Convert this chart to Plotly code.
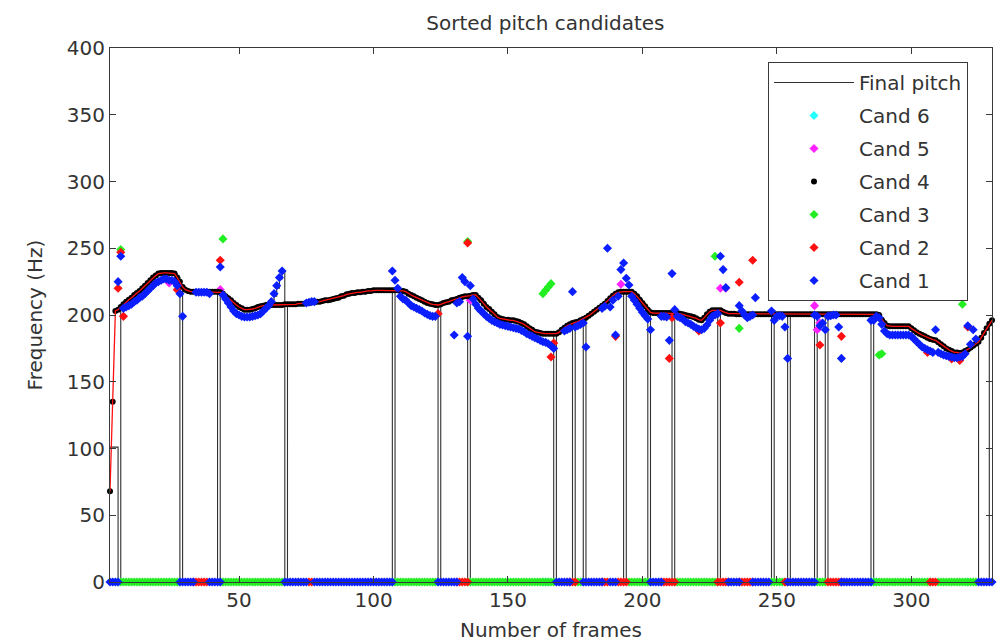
import plotly.graph_objects as go

# ---------------- data ----------------
first_frame = 2
last_frame = 330
frames = list(range(first_frame, last_frame + 1))

# smoothed pitch contour (Hz), one value per frame, frames 2..330
pitch_contour = [
    68, 135, 203, 204, 206, 208, 210, 211.5, 213, 215,            # 2-11
    216.5, 218, 220, 222, 224, 226, 228, 229.5, 231, 231.5,       # 12-21
    231.5, 231.5, 231.5, 231.5, 231, 228, 225, 221, 219, 218,     # 22-31
    217.5, 217.5, 217.5, 217.5, 217.5, 217.5, 217.5, 217.5, 217.5, 217.5,  # 32-41
    217.5, 217, 216, 214, 212.5, 211, 209, 207.5, 206, 205,       # 42-51
    204, 204, 204, 204.5, 205, 206, 206.5, 207, 207.5, 207.5,     # 52-61
    207.5, 207.5, 207.5, 207.5, 207.5, 208, 208, 208, 208, 208,   # 62-71
    208.5, 208.5, 208.5, 209, 209, 209.5, 209.5, 210, 210, 210.5, # 72-81
    211, 211, 211.5, 212, 212.5, 213, 214, 214.5, 215.5, 216,     # 82-91
    216.5, 216.5, 217, 217, 217.5, 217.5, 218, 218, 218.5, 218.5, # 92-101
    218.5, 218.5, 218.5, 218.5, 218.5, 218.5, 218.5, 218.5, 218, 218,  # 102-111
    217.5, 216, 215, 214, 213, 212, 211, 210, 209, 208.5,         # 112-121
    208, 207.5, 207.5, 208, 209, 209.5, 210, 211, 211.5, 212,     # 122-131
    213, 213.5, 214, 214, 214.5, 215, 215, 213, 211, 208.5,       # 132-141
    206, 204.5, 202.5, 200.5, 198.5, 197.5, 197, 196.5, 196.5, 196,  # 142-151
    196, 195.5, 195, 194, 193, 191.5, 190, 189, 187.5, 187,       # 152-161
    186.5, 186, 186, 186, 186, 186, 186, 187, 189, 190.5,         # 162-171
    192, 193, 194, 194.5, 195, 196, 197, 198, 199.5, 201,         # 172-181
    202.5, 204, 205.5, 207, 208.5, 210.5, 212.5, 214.5, 216, 217, # 182-191
    217.5, 217.5, 217.5, 217.5, 217.5, 216, 214, 211.5, 209, 206.5,  # 192-201
    204, 202, 201.5, 201.5, 201.5, 201.5, 201.5, 201.5, 201.5, 201.5,  # 202-211
    201.5, 201.5, 201, 200.5, 200, 199.5, 199, 198.5, 197.5, 196.5,  # 212-221
    196, 198, 200.5, 202.5, 203.5, 203.5, 203.5, 203.5, 202.5, 201.5,  # 222-231
    201, 201, 201, 200.5, 200.5, 200.5, 200.5, 200.5, 200.5, 200.5,  # 232-241
    200.5, 200.5, 200.5, 200.5, 200.5, 200.5, 200.5, 200.5, 200.5, 200.5,  # 242-251
    200.5, 200.5, 200.5, 200.5, 200.5, 200.5, 200.5, 200.5, 200.5, 200.5,  # 252-261
    200.5, 200.5, 200.5, 200.5, 200.5, 200.5, 200.5, 200.5, 200.5, 200.5,  # 262-271
    200.5, 200.5, 200.5, 200.5, 200.5, 200.5, 200.5, 200.5, 200.5, 200.5,  # 272-281
    200.5, 200.5, 200.5, 200.5, 200.5, 200.5, 200, 196.5, 194, 192,  # 282-291
    191.5, 191.5, 191.5, 191.5, 191.5, 191.5, 191.5, 191.5, 190, 188.5,  # 292-301
    187, 186, 185, 184, 183, 182, 181.5, 181, 179.5, 178,         # 302-311
    176.5, 175, 174, 173, 172, 172, 171.5, 172, 173, 174,         # 312-321
    175.5, 177, 178.5, 180, 183, 186.5, 190, 193.5, 196,          # 322-330
]

# final pitch: the contour, except these frames
final_pitch_changes = {
    2: 101, 3: 101, 4: 101, 5: 0, 28: 0, 42: 0,
    62: 209, 63: 214, 64: 220, 65: 227, 66: 233, 67: 0,
    107: 0, 124: 0, 135: 0, 167: 0, 174: 0, 178: 0, 193: 0, 202: 0,
    211: 0, 228: 0, 248: 0, 254: 0, 264: 0, 268: 0, 285: 0,
    325: 0, 326: 0, 327: 0, 328: 0,
}

# candidate 1 (blue): voiced values
cand1_frames = [
    5, 6, 7, 8, 9, 10, 11, 12, 13, 14, 15, 16, 17, 18, 19, 20, 21, 22, 23, 24, 25, 26, 27, 28, 29,
    34, 35, 36, 37, 38, 39,
    43, 44, 45, 46, 47, 48, 49, 50, 51, 52, 53, 54, 55, 56, 57, 58, 59, 60, 61, 62, 63, 64, 65, 66,
    75, 76, 77, 78,
    107, 108, 109, 110, 111, 112, 113, 114, 115, 116, 117, 118, 119, 120, 121, 122, 123,
    130, 131, 132, 133, 134, 135, 136, 137, 138, 139, 140, 141, 142, 143, 144, 145, 146, 147, 148,
    149, 150, 151, 152, 153, 154, 155, 156, 157, 158, 159, 160, 161, 162, 163, 164, 165, 166, 167,
    171, 172, 173, 174, 175, 176, 177, 178, 179,
    185, 186, 187, 188, 189, 190, 191, 192, 193, 194, 195, 196, 197, 198, 199, 200, 201, 202, 203,
    207, 208, 209, 210, 211, 212, 213, 214, 215, 216, 217, 218, 219, 220, 221, 222, 223, 224, 225,
    226, 227, 228, 229, 230, 231,
    236, 237, 238, 239, 240, 241, 242,
    248, 249, 250, 251, 252, 253, 254,
    264, 265, 266, 267, 268, 269, 270, 271, 272, 273, 274,
    285, 286, 287, 288, 289, 290, 291, 292, 293, 294, 295, 296, 297, 298, 299, 300, 301, 302, 303,
    304, 305, 306, 307, 308, 309, 310, 311, 312, 313, 314, 315, 316, 317, 318, 319, 320, 321, 322,
    323, 324,
]
cand1_hz = [
    225, 244, 205, 206, 207, 208, 210, 211, 213, 214, 216, 218, 220, 222, 224, 225, 226, 227, 227, 226, 226, 225, 222, 216, 199,
    217, 217, 217, 217, 217, 216,
    236, 215, 212, 209, 206, 203, 201, 200, 199, 198.5, 198.5, 198.5, 199, 199.5, 200, 201, 203, 205, 207, 210, 216, 222, 228, 233,
    209, 209.5, 210, 210,
    233, 226, 220, 214, 212, 211, 209, 207, 206, 205, 204, 203, 201.5, 200.5, 199.5, 199, 199,
    185, 209, 210, 228, 225, 184, 222, 212, 208, 205, 203, 201, 199, 197.5, 196, 195, 194, 193, 192.5,
    192, 191.5, 191, 190.5, 190, 189.5, 188.5, 187.5, 186, 185, 184, 183, 182, 181, 180, 179.5, 178.5, 177, 175,
    188, 189, 190, 217.5, 191, 192, 193, 194, 176,
    205, 206.5, 250, 206, 211, 185, 214, 234, 239, 227.5, 222.5, 214, 211, 208, 205, 202, 199.5, 197, 189,
    199, 199, 198.5, 181, 231, 204, 199, 198, 197, 195, 194, 193, 191.5, 190.5, 189.5, 189, 190, 192.5, 196,
    199, 200, 201, 244, 234, 220.5,
    207, 203, 200, 198, 199, 200, 213,
    203, 196, 199, 199.5, 199, 191, 167.5,
    200, 199, 192, 194, 189, 199, 199.5, 200, 200, 191, 167.5,
    196, 196, 199, 198, 193, 188, 186, 185, 185, 185, 185, 185, 185, 185, 185, 184, 182, 180, 178,
    176, 175, 174, 173, 172, 189, 172, 171, 170, 169.5, 169, 168.5, 168, 168, 168.5, 169, 171, 192, 178,
    189, 182,
]
# runs of frames (first, last) where each candidate is 0 Hz
cand1_zero_runs = [(2, 5), (28, 33), (39, 43), (67, 75), (78, 107), (124, 131), (168, 173),
                   (178, 185), (188, 190), (203, 207), (232, 236), (241, 247), (254, 264),
                   (274, 285), (325, 330)]
cand2_zero_runs = [(33, 38), (76, 77), (131, 135), (173, 175), (185, 187), (191, 194),
                   (207, 212), (228, 232), (236, 241), (253, 254), (269, 274), (307, 309)]
cand3_zero_runs = [(5, 28), (43, 67), (107, 124), (135, 167), (175, 178), (195, 203),
                   (212, 228), (248, 253), (264, 268), (285, 307), (310, 324)]

# candidate 2 (red) voiced values
cand2_frames = [5, 6, 7, 27, 43, 124, 135, 166, 167, 190, 210, 211, 221, 229, 236, 241, 266, 274,
                306, 315, 318, 321]
cand2_hz = [220, 247, 199, 219, 241, 201, 254, 168.5, 179, 184, 167.5, 198, 188, 194, 224.5, 241,
            177.5, 184, 172, 167, 166, 191]

# candidate 3 (green) voiced values
cand3_frames = [6, 44, 135, 163, 164, 165, 166, 227, 236, 288, 289, 319]
cand3_hz = [249, 257, 255, 216, 218.5, 221, 223.5, 244, 190, 170, 171, 208]

# candidate 5 (magenta)
cand5_frames = [24, 43, 136, 192, 229, 231, 264, 265, 266]
cand5_hz = [224, 219, 211, 223, 220, 220, 207, 189, 194]

# candidate 6 (cyan)
cand6_frames = [163, 164, 165, 285, 286, 287, 321]
cand6_hz = [0, 0, 0, 0, 0, 0, 0]

x_ticks = [50, 100, 150, 200, 250, 300]
y_ticks = [0, 50, 100, 150, 200, 250, 300, 350, 400]


# ---------------- helpers ----------------
def with_zero_runs(fr, hz, runs):
    xs, ys = list(fr), list(hz)
    for a, b in runs:
        for f in range(a, b + 1):
            xs.append(f)
            ys.append(0)
    return xs, ys


final_pitch = [final_pitch_changes.get(f, v) for f, v in zip(frames, pitch_contour)]

c1x, c1y = with_zero_runs(cand1_frames, cand1_hz, cand1_zero_runs)
c2x, c2y = with_zero_runs(cand2_frames, cand2_hz, cand2_zero_runs)
c3x, c3y = with_zero_runs(cand3_frames, cand3_hz, cand3_zero_runs)

BLUE = '#0a1eff'
RED = '#ff1010'
GREEN = '#22ee22'
MAG = '#ff22ff'
CYAN = '#22ffff'

fig = go.Figure()

fig.add_trace(go.Scatter(x=frames, y=final_pitch, mode='lines', name='Final pitch',
                         line=dict(color='#303030', width=1.1, shape='hv'),
                         legendgroup='g0'))


def cand_trace(x, y, name, color, symbol='diamond', size=7, group=''):
    return go.Scatter(x=x, y=y, mode='markers', name=name, cliponaxis=False,
                      marker=dict(color=color, symbol=symbol, size=size, line=dict(width=0)),
                      legendgroup=group)


fig.add_trace(cand_trace(cand6_frames, cand6_hz, 'Cand 6', CYAN, group='g6'))
fig.add_trace(cand_trace(cand5_frames, cand5_hz, 'Cand 5', MAG, group='g5'))
fig.add_trace(cand_trace(frames, pitch_contour, 'Cand 4', 'black', symbol='circle', size=6, group='g4'))
fig.add_trace(go.Scatter(x=frames, y=pitch_contour, mode='lines', showlegend=False,
                         line=dict(color=RED, width=1.3), hoverinfo='skip'))
fig.add_trace(cand_trace(c3x, c3y, 'Cand 3', GREEN, group='g3'))
fig.add_trace(cand_trace(c2x, c2y, 'Cand 2', RED, group='g2'))
fig.add_trace(cand_trace(c1x, c1y, 'Cand 1', BLUE, group='g1'))

axis_col = '#3a3a3a'
FONT = 'DejaVu Sans, Liberation Sans, Arial, sans-serif'
fig.update_layout(
    width=999, height=644,
    margin=dict(l=110, r=7, t=48, b=62),
    paper_bgcolor='white', plot_bgcolor='white',
    font=dict(family=FONT, size=20, color='#333333'),
    title=dict(text='Sorted pitch candidates', x=0.546, xref='container', xanchor='center',
               y=1 - 23 / 644, yref='container', yanchor='middle',
               font=dict(family=FONT, size=20, color='#333333')),
    xaxis=dict(range=[first_frame, last_frame], tickvals=x_ticks, showgrid=False, zeroline=False,
               showline=True, linecolor=axis_col, linewidth=1, mirror='ticks',
               ticks='inside', ticklen=6, tickcolor=axis_col, automargin=False,
               tickfont=dict(size=20),
               title=dict(text='Number of frames', standoff=11, font=dict(size=20))),
    yaxis=dict(range=[0, 400], tickvals=y_ticks, showgrid=False, zeroline=False,
               showline=True, linecolor=axis_col, linewidth=1, mirror='ticks',
               ticks='inside', ticklen=6, tickcolor=axis_col, automargin=False,
               tickfont=dict(size=20),
               title=dict(text='Frequency (Hz)', standoff=18, font=dict(size=20))),
    legend=dict(x=(768 - 110) / 882, y=(582 - 62) / 534, xanchor='left', yanchor='top',
                bgcolor='white', bordercolor=axis_col, borderwidth=1,
                font=dict(family=FONT, size=20), tracegroupgap=4, itemwidth=80),
    showlegend=True,
)

fig.write_html('out.html')
